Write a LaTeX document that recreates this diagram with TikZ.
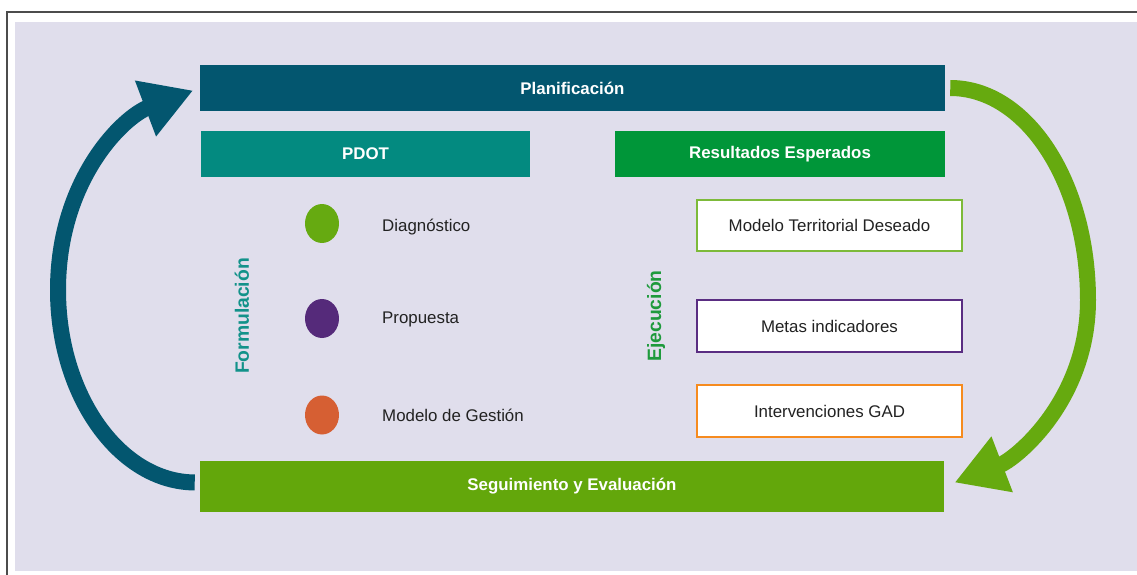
\documentclass[tikz,border=0pt]{standalone}
\usepackage{fontspec}
\setmainfont{Liberation Sans}
\usetikzlibrary{arrows.meta,shapes.geometric}
\definecolor{bgc}{HTML}{E0DEEC}
\definecolor{planc}{HTML}{03566F}
\definecolor{pdotc}{HTML}{038A80}
\definecolor{resc}{HTML}{009639}
\definecolor{segc}{HTML}{63A70B}
\definecolor{arrg}{HTML}{66AA0F}
\definecolor{dotg}{HTML}{66AA11}
\definecolor{dotp}{HTML}{552A7A}
\definecolor{doto}{HTML}{D65F33}
\definecolor{boxg}{HTML}{7DBA3A}
\definecolor{boxp}{HTML}{5A2D82}
\definecolor{boxo}{HTML}{F68B1F}
\definecolor{txt}{HTML}{222222}
\definecolor{formc}{HTML}{12928A}
\definecolor{ejec}{HTML}{1E9A3C}
\tikzset{
  bar/.style={rectangle, inner sep=0pt, minimum height=0.92cm, text=white,
    font=\fontsize{9.6}{11}\selectfont\bfseries},
  resbox/.style={rectangle, draw, line width=1.2pt, fill=white, inner sep=0pt,
    minimum width=5.3cm, minimum height=1.03cm, text=txt,
    font=\fontsize{9.6}{11}\selectfont},
  dot/.style={ellipse, inner sep=0pt, minimum width=0.68cm, minimum height=0.78cm},
  lbl/.style={anchor=west, text=txt, font=\fontsize{9.6}{11}\selectfont},
  side/.style={rotate=90, font=\fontsize{11}{13}\selectfont\bfseries},
  bigarrow/.style={line width=0.32cm, -{Triangle[length=1.02cm,width=1.12cm]}}
}
\begin{document}
\begin{tikzpicture}[x=0.02cm, y=-0.02cm]
\useasboundingbox (0,0) rectangle (1137,575);
\fill[white] (0,0) rectangle (1137,575);
\fill[bgc] (15,22) rectangle (1137,571);
\draw[line width=0.8pt, black!70] (7,575) -- (7,12) -- (1137,12);

\node[bar, fill=planc, minimum width=14.9cm] (plan) at (572.5,88) {Planificación};
\node[bar, fill=pdotc, minimum width=6.58cm] (pdot) at (365.5,154) {PDOT};
\node[bar, fill=resc, minimum width=6.6cm] (res) at (780,154) {Resultados Esperados};
\node[bar, fill=segc, minimum width=14.88cm, minimum height=1.02cm] (seg) at (572,486.5) {Seguimiento y Evaluación};

\node[dot, fill=dotg] (d1) at (322,223.5) {};
\node[dot, fill=dotp] (d2) at (322,318.5) {};
\node[dot, fill=doto] (d3) at (322,415) {};
\node[lbl] (l1) at (376,227) {Diagnóstico};
\node[lbl] (l2) at (376,319) {Propuesta};
\node[lbl] (l3) at (376,415) {Modelo de Gestión};

\node[side, text=formc] (form) at (242,316) {Formulación};
\node[side, text=ejec] (ejec) at (656,316) {Ejecución};

\node[resbox, draw=boxg] (b1) at (829.5,225.5) {Modelo Territorial Deseado};
\node[resbox, draw=boxp] (b2) at (829.5,326) {Metas indicadores};
\node[resbox, draw=boxo] (b3) at (829.5,411) {Intervenciones GAD};

\coordinate (lmid) at (58,290);
\coordinate (rmid) at (1088,300);
\draw[bigarrow, draw=planc, shorten <=0.1cm, shorten >=0.14cm]
  ([yshift=0.08cm]seg.west) .. controls (120,482) and (58,396) .. (lmid)
  .. controls (58,180) and (123,117) .. (plan.west);
\draw[bigarrow, draw=arrg, shorten <=0.1cm, shorten >=0.22cm]
  (plan.east) .. controls (1027,88) and (1088,183) .. (rmid)
  .. controls (1088,400) and (1016,459) .. (seg.east);
\end{tikzpicture}
\end{document}
